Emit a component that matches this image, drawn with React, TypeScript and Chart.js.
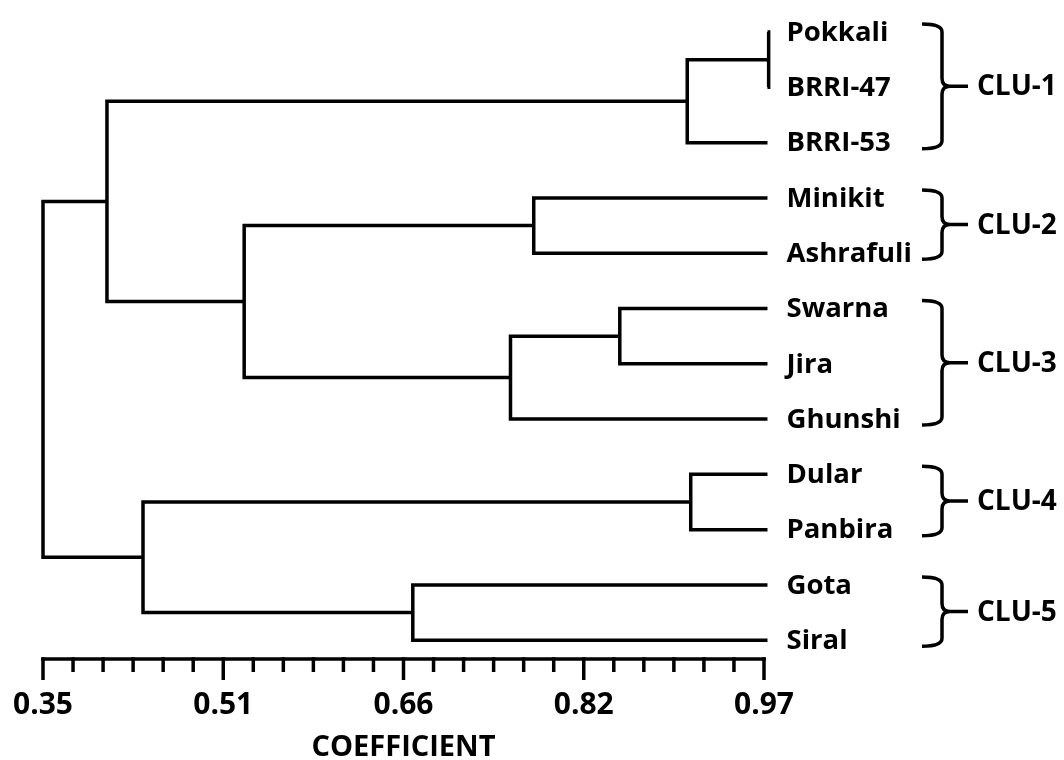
import React, { useEffect, useRef } from "react";
import { Chart, registerables } from "chart.js";

Chart.register(...registerables);

// ---- data ----
const LEAVES = ["Pokkali", "BRRI-47", "BRRI-53", "Minikit", "Ashrafuli", "Swarna", "Jira", "Ghunshi", "Dular", "Panbira", "Gota", "Siral"];
const LEAF_COEF = 0.973;
// merges: node ids 0..11 are leaves, merge k becomes node 12+k
const MERGE_A = [0, 12, 5, 14, 3, 16, 13, 8, 10, 19, 18];
const MERGE_B = [1, 2, 6, 7, 4, 15, 17, 9, 11, 20, 21];
const MERGE_H = [0.974, 0.904, 0.846, 0.752, 0.772, 0.523, 0.405, 0.907, 0.668, 0.436, 0.35];

const CLUSTER_NAMES = ["CLU-1", "CLU-2", "CLU-3", "CLU-4", "CLU-5"];
const CLUSTER_FIRST = [0, 3, 5, 8, 10];
const CLUSTER_LAST = [2, 4, 7, 9, 11];

const MAJOR_TICKS = [0.35, 0.505, 0.66, 0.815, 0.97];
const MAJOR_LABELS = ["0.35", "0.51", "0.66", "0.82", "0.97"];
const MINOR_PER_MAJOR = 6;
const AXIS_TITLE = "COEFFICIENT";

const FONT_FAMILY = '"Open Sans", sans-serif';
const LINE_W = 3.5;

function buildTicks(): number[] {
  const out: number[] = [];
  for (let i = 0; i < MAJOR_TICKS.length - 1; i++) {
    const a = MAJOR_TICKS[i];
    const b = MAJOR_TICKS[i + 1];
    for (let j = 0; j < MINOR_PER_MAJOR; j++) out.push(a + ((b - a) * j) / MINOR_PER_MAJOR);
  }
  out.push(MAJOR_TICKS[MAJOR_TICKS.length - 1]);
  return out;
}

function buildDatasets() {
  const nodeX: number[] = LEAVES.map(() => LEAF_COEF);
  const nodeY: number[] = LEAVES.map((_, i) => i);
  const datasets: any[] = [];
  for (let k = 0; k < MERGE_H.length; k++) {
    const a = MERGE_A[k];
    const b = MERGE_B[k];
    const h = MERGE_H[k];
    datasets.push({
      data: [
        { x: nodeX[a], y: nodeY[a] },
        { x: h, y: nodeY[a] },
        { x: h, y: nodeY[b] },
        { x: nodeX[b], y: nodeY[b] },
      ],
      showLine: true,
      borderColor: "#000",
      borderWidth: LINE_W,
      pointRadius: 0,
      tension: 0,
      clip: false,
      borderJoinStyle: "miter",
      borderCapStyle: "butt",
    });
    nodeX.push(h);
    nodeY.push((nodeY[a] + nodeY[b]) / 2);
  }
  return datasets;
}

const decorPlugin = {
  id: "decor",
  afterDraw(chart: any) {
    const { ctx, chartArea } = chart;
    const xs = chart.scales.x;
    const ys = chart.scales.y;
    ctx.save();
    ctx.strokeStyle = "#000";
    ctx.fillStyle = "#000";
    ctx.lineWidth = LINE_W;

    // axis line + ticks
    const axisY = chartArea.bottom;
    ctx.beginPath();
    ctx.lineCap = "butt";
    ctx.moveTo(xs.getPixelForValue(MAJOR_TICKS[0]) - LINE_W / 2, axisY);
    ctx.lineTo(xs.getPixelForValue(MAJOR_TICKS[MAJOR_TICKS.length - 1]) + LINE_W / 2, axisY);
    ctx.stroke();
    xs.ticks.forEach((t: any, i: number) => {
      const px = xs.getPixelForValue(t.value);
      const len = i % MINOR_PER_MAJOR === 0 ? 21 : 13;
      ctx.beginPath();
      ctx.moveTo(px, axisY - LINE_W / 2);
      ctx.lineTo(px, axisY + len);
      ctx.stroke();
    });

    // leaf labels
    const leafPx = xs.getPixelForValue(LEAF_COEF);
    ctx.font = `bold 27.5px ${FONT_FAMILY}`;
    ctx.textBaseline = "middle";
    ctx.textAlign = "left";
    LEAVES.forEach((name, i) => {
      ctx.fillText(name, leafPx + 19, ys.getPixelForValue(i) + 1);
    });

    // cluster brackets
    const x0 = chartArea.right + 158;
    const x1 = chartArea.right + 178;
    const tip = chartArea.right + 204;
    const r = 8;
    ctx.lineJoin = "round";
    ctx.font = `bold 28px ${FONT_FAMILY}`;
    CLUSTER_NAMES.forEach((name, c) => {
      const top = ys.getPixelForValue(CLUSTER_FIRST[c]) - 8;
      const bot = ys.getPixelForValue(CLUSTER_LAST[c]) + 6;
      const mid = (top + bot) / 2;
      ctx.beginPath();
      ctx.moveTo(x0, top);
      ctx.quadraticCurveTo(x1, top, x1, top + r);
      ctx.lineTo(x1, mid - r);
      ctx.quadraticCurveTo(x1, mid, x1 + r, mid);
      ctx.lineTo(tip, mid);
      ctx.moveTo(x1 + r, mid);
      ctx.quadraticCurveTo(x1, mid, x1, mid + r);
      ctx.lineTo(x1, bot - r);
      ctx.quadraticCurveTo(x1, bot, x0, bot);
      ctx.stroke();
      ctx.fillText(name, tip + 9, mid + 1);
    });
    ctx.restore();
  },
};

export default function App() {
  const canvasRef = useRef<HTMLCanvasElement | null>(null);

  useEffect(() => {
    document.body.style.margin = "0";
    const canvas = canvasRef.current;
    if (!canvas) return;
    const tickValues = buildTicks();
    const chart = new Chart(canvas, {
      type: "scatter",
      data: { datasets: buildDatasets() },
      options: {
        animation: false,
        responsive: true,
        maintainAspectRatio: false,
        events: [],
        layout: { padding: { left: 43, right: 300, top: 0, bottom: 0 } },
        plugins: { legend: { display: false }, tooltip: { enabled: false } },
        scales: {
          x: {
            type: "linear",
            min: MAJOR_TICKS[0],
            max: MAJOR_TICKS[MAJOR_TICKS.length - 1],
            afterBuildTicks: (scale: any) => {
              scale.ticks = tickValues.map((v) => ({ value: v }));
            },
            afterFit: (scale: any) => {
              scale.height = 101;
              scale.paddingLeft = 0;
              scale.paddingRight = 0;
            },
            grid: { display: false, drawTicks: false },
            border: { display: false },
            ticks: {
              autoSkip: false,
              maxRotation: 0,
              padding: 28,
              color: "#000",
              font: { family: FONT_FAMILY, size: 30, weight: "bold" },
              callback: (_v: any, i: number) =>
                i % MINOR_PER_MAJOR === 0 ? MAJOR_LABELS[i / MINOR_PER_MAJOR] : "",
            },
            title: {
              display: true,
              text: AXIS_TITLE,
              color: "#000",
              font: { family: FONT_FAMILY, size: 29, weight: "bold" },
              padding: { top: 0, bottom: -5 },
            },
          },
          y: {
            type: "linear",
            display: false,
            reverse: true,
            min: -0.58,
            max: 11.34,
          },
        },
      },
      plugins: [decorPlugin],
    });
    return () => chart.destroy();
  }, []);

  return (
    <div style={{ position: "absolute", left: 0, top: 0, width: 1064, height: 760, background: "#fff" }}>
      <canvas ref={canvasRef} />
    </div>
  );
}
